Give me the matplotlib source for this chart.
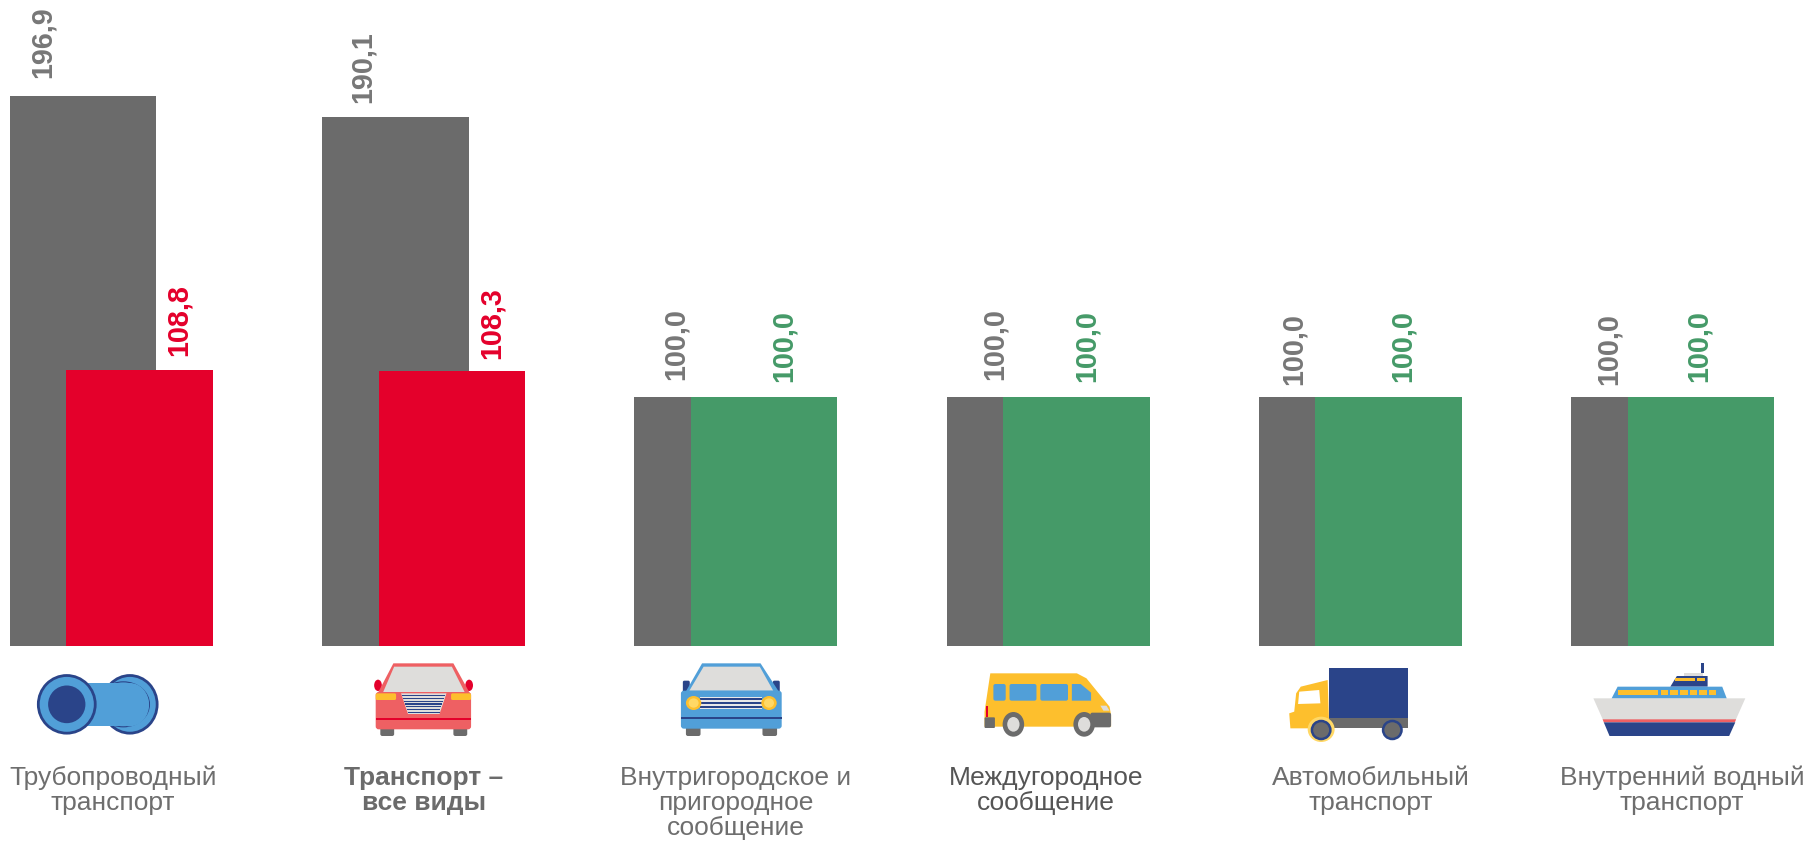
import matplotlib
matplotlib.use('Agg')
import matplotlib.pyplot as plt
from matplotlib.patches import Polygon, Ellipse, Rectangle, FancyBboxPatch

plt.rcParams['font.family'] = ['Liberation Sans', 'DejaVu Sans']

# values
categories = ['Трубопроводный\nтранспорт', 'Транспорт –\nвсе виды',
              'Внутригородское и\nпригородное\nсообщение', 'Междугородное\nсообщение',
              'Автомобильный\nтранспорт', 'Внутренний водный\nтранспорт']
grey_values = [196.9, 190.1, 100.0, 100.0, 100.0, 100.0]
front_values = [108.8, 108.3, 100.0, 100.0, 100.0, 100.0]
value_labels_grey = ['196,9', '190,1', '100,0', '100,0', '100,0', '100,0']
value_labels_front = ['108,8', '108,3', '100,0', '100,0', '100,0', '100,0']

GREY = '#6b6b6b'
TEXT = '#6e6e6e'
RED = '#e4002b'
GREEN = '#459a68'
BLUE = '#519fd8'
NAVY = '#2a4489'
YEL = '#fdbf2d'
LYEL = '#ffd866'
LGREY = '#dedddb'
PINK = '#ee6063'

W, H = 1808, 841
BASE_PX = 646       # baseline of bars in pixels
PX_PER_UNIT = 3.11  # vertical scale
STEP = 312.3        # distance between groups
Y0 = 20             # the value axis does not start at zero

fig = plt.figure(figsize=(W/100, H/100), dpi=100)
ax = fig.add_axes([0, 1-BASE_PX/H, 1, BASE_PX/H])
ax.set_xlim(-83/STEP, (W-83)/STEP)
ax.set_ylim(Y0, Y0+BASE_PX/PX_PER_UNIT)
ax.axis('off')

front_colors = [RED, RED, GREEN, GREEN, GREEN, GREEN]
bar_w = 146.5/STEP
off = 56.5/STEP
for i in range(len(categories)):
    ax.bar(i, grey_values[i]-Y0, bottom=Y0, width=bar_w, color=GREY, linewidth=0)
    ax.bar(i+off, front_values[i]-Y0, bottom=Y0, width=bar_w, color=front_colors[i], linewidth=0)

# label offsets from the bar centre / bar top, in pixels
grey_dx = [-40, -33, -32, -25, -38, -36]
grey_dy = [18, 14, 17, 17, 12, 12]
front_dx = [39, 40, 20, 10, 14, -2]
front_dy = [14, 12, 15, 15, 15, 15]
for i in range(len(categories)):
    ax.annotate(value_labels_grey[i], (i, grey_values[i]), xytext=(grey_dx[i]*.72, grey_dy[i]*.72),
                textcoords='offset points', rotation=90, ha='center', va='bottom',
                fontsize=20.7, fontweight='bold', color='#777777', annotation_clip=False)
    ax.annotate(value_labels_front[i], (i+off, front_values[i]), xytext=(front_dx[i]*.72, front_dy[i]*.72),
                textcoords='offset points', rotation=90, ha='center', va='bottom',
                fontsize=20.7, fontweight='bold', color=front_colors[i], annotation_clip=False)

# overlay in picture pixels for icons and captions
ov = fig.add_axes([0, 0, 1, 1])
ov.set_xlim(0, W)
ov.set_ylim(H, 0)
ov.axis('off')
ov.patch.set_alpha(0)


def pts(x0, p):
    return [(x0+a/2.6, 640+b/3) for a, b in p]


def poly(x0, p, c, z=3):
    ov.add_patch(Polygon(pts(x0, p), closed=True, fc=c, ec='none', zorder=z))


def box(x0, x1, x2, y1, y2, c, z=3, r=0):
    a, b = pts(x0, [(x1, y1), (x2, y2)])
    if r:
        ov.add_patch(FancyBboxPatch((a[0]+r, a[1]+r), b[0]-a[0]-2*r, b[1]-a[1]-2*r,
                                    boxstyle='round,pad=%g' % r, fc=c, ec='none', zorder=z))
    else:
        ov.add_patch(Rectangle(a, b[0]-a[0], b[1]-a[1], fc=c, ec='none', zorder=z))


def ell(x0, cx, cy, w, h, c, z=3, ec='none', lw=0):
    a = pts(x0, [(cx, cy)])[0]
    ov.add_patch(Ellipse(a, w/2.6, h/3, fc=c, ec=ec, lw=lw, zorder=z))


# pipe
ell(1, 335, 193, 142, 173, BLUE, 3, NAVY, 2)
ell(1, 318, 193, 136, 135, 'none', 4, NAVY, 0.8)
box(1, 171, 335, 130, 258, BLUE, 5)
ell(1, 335, 194, 100, 130, BLUE, 5)
ell(1, 171, 193, 148, 173, BLUE, 6, NAVY, 2)
ell(1, 171, 193, 97, 113, NAVY, 7)

# red car
cx = -2
for a in (994, 1184):
    box(cx, a, a+36, 255, 288, GREY, 3, 2)
for a in (978, 1215):
    ell(cx, a+10, 136, 20, 34, RED)
poly(cx, [(988, 158), (1028, 70), (1184, 70), (1226, 158)], PINK)
poly(cx, [(1000, 160), (1030, 80), (1180, 80), (1215, 160)], LGREY, 4)
box(cx, 982, 1230, 156, 268, PINK, 4, 3)
box(cx, 982, 1035, 160, 180, YEL, 5, 1.5)
box(cx, 1178, 1230, 160, 180, YEL, 5, 1.5)
poly(cx, [(1048, 160), (1166, 160), (1148, 222), (1066, 222)], LGREY, 5)
for k in range(7):
    y = 165+k*8.3
    t = (y-160)/62*18
    box(cx, 1050+t, 1164-t, y, y+4, NAVY, 6)
box(cx, 982, 1230, 233, 241, RED, 5)

# blue car
cx = 599
for a in (226, 425):
    box(cx, a, a+38, 255, 288, GREY, 3, 2)
for a in (218, 452):
    box(cx, a, a+18, 122, 160, NAVY, 3, 1.5)
poly(cx, [(226, 154), (268, 70), (420, 70), (467, 154)], BLUE)
poly(cx, [(235, 152), (272, 80), (418, 80), (453, 152)], LGREY, 4)
box(cx, 213, 475, 152, 266, BLUE, 4, 3)
box(cx, 262, 425, 172, 207, '#e8e8e8', 5)
for y in (174, 186, 198):
    box(cx, 262, 425, y, y+5, NAVY, 6)
for a in (246, 442):
    ell(cx, a, 189, 40, 42, YEL, 7)
    ell(cx, a, 189, 26, 28, LYEL, 8)
box(cx, 213, 475, 232, 238, NAVY, 5)

# minibus
cx = 598
poly(cx, [(1020, 100), (1245, 100), (1270, 115), (1330, 200), (1334, 225), (1334, 260),
          (1005, 260), (1005, 215)], YEL)
box(cx, 1028, 1060, 132, 182, BLUE, 4, 2)
box(cx, 1070, 1140, 132, 182, BLUE, 4, 2)
box(cx, 1150, 1222, 132, 182, BLUE, 4, 2)
poly(cx, [(1232, 132), (1255, 132), (1282, 158), (1282, 182), (1232, 182)], BLUE, 4)
box(cx, 1008, 1014, 198, 232, RED, 4)
box(cx, 1005, 1032, 232, 264, GREY, 4, 1)
box(cx, 1280, 1334, 218, 262, GREY, 4, 2)
poly(cx, [(1306, 197), (1322, 197), (1330, 212), (1314, 212)], LGREY, 5)
for a in (1080, 1264):
    ell(cx, a, 253, 56, 74, GREY, 5)
    ell(cx, a, 253, 32, 44, LGREY, 6)

# truck
box(1200, 335, 540, 84, 235, NAVY)
box(1200, 335, 540, 235, 265, GREY)
poly(1200, [(262, 140), (332, 120), (336, 265), (235, 265), (232, 220), (245, 215), (250, 160)], YEL, 4)
poly(1200, [(258, 155), (310, 150), (313, 190), (255, 192)], 'white', 5)
ell(1200, 315, 268, 70, 76, LYEL, 5)
for a in (315, 500):
    ell(1200, a, 270, 48, 54, GREY, 6, NAVY, 1.8)

# ship
cx = 1203
poly(cx, [(1250, 98), (1300, 98), (1300, 110), (1250, 110)], LGREY, 2)
box(cx, 1296, 1302, 68, 100, NAVY, 2)
poly(cx, [(1215, 140), (1232, 108), (1312, 108), (1312, 140)], NAVY)
box(cx, 1228, 1278, 114, 122, YEL, 4)
box(cx, 1285, 1305, 114, 122, YEL, 4)
poly(cx, [(1062, 176), (1078, 140), (1350, 140), (1362, 176)], BLUE)
box(cx, 1080, 1183, 149, 166, YEL, 4)
for a in (1190, 1215, 1240, 1265, 1290, 1315):
    box(cx, a, a+20, 149, 166, YEL, 4)
poly(cx, [(1015, 175), (1410, 175), (1385, 240), (1040, 240)], LGREY, 4)
poly(cx, [(1039, 238), (1386, 238), (1383, 247), (1042, 247)], PINK, 5)
poly(cx, [(1042, 247), (1384, 247), (1368, 288), (1057, 288)], NAVY, 5)

# captions
cap_x = [113, 424, 736, 1046, 1371, 1682]
cap_colors = [TEXT, GREY, TEXT, '#555555', TEXT, TEXT]
cap_weights = ['normal', 'bold', 'normal', 'normal', 'normal', 'normal']
for i, name in enumerate(categories):
    ov.text(cap_x[i], 766, name, ha='center', va='top', fontsize=19, color=cap_colors[i],
            fontweight=cap_weights[i], linespacing=1.05, zorder=10)

fig.savefig('out.png', dpi=100, facecolor='white')
